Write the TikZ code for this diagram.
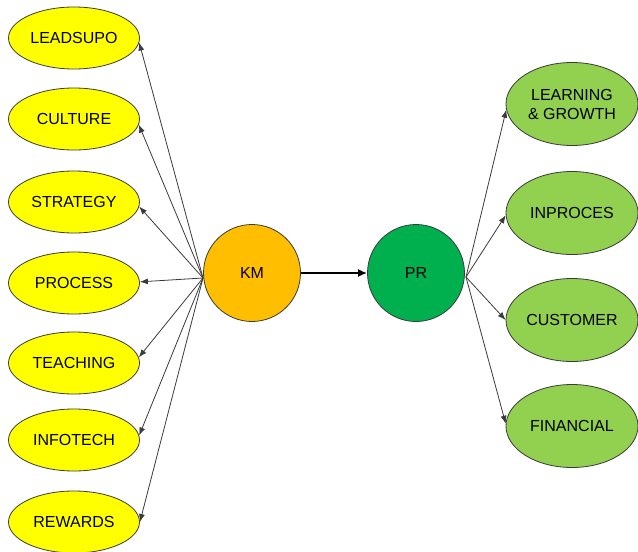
\documentclass[tikz,border=0pt]{standalone}
\usepackage{fontspec}
\setmainfont{Liberation Sans}
\usetikzlibrary{shapes.geometric,arrows.meta}
\definecolor{leftfill}{HTML}{FFFF00}
\definecolor{kmfill}{HTML}{FFBF00}
\definecolor{prfill}{HTML}{00B04F}
\definecolor{rightfill}{HTML}{92D050}
\definecolor{edgegray}{HTML}{3A3A3A}
\begin{document}
\begin{tikzpicture}[x=1pt,y=-1pt,
  every node/.style={font=\fontsize{16}{18}\selectfont, text=black},
  leftbox/.style={ellipse, draw=edgegray, line width=0.8pt, fill=leftfill,
    minimum width=131pt, minimum height=62pt, inner sep=0pt},
  rightbox/.style={ellipse, draw=edgegray, line width=0.8pt, fill=rightfill,
    minimum width=132pt, minimum height=83pt, inner sep=0pt, align=center},
  hub/.style={circle, draw=edgegray, line width=0.8pt, minimum size=97pt, inner sep=0pt},
  link/.style={draw=edgegray, line width=0.8pt, -{Latex[length=8pt,width=6pt]}},
  mainlink/.style={draw=black, line width=2.4pt, -{Latex[length=9pt,width=8pt]}}]
\useasboundingbox (0,0) rectangle (638,552);

% left-hand factors
\node[leftbox] (leadsupo) at (74,38)  {LEADSUPO};
\node[leftbox] (culture)  at (74,119) {CULTURE};
\node[leftbox] (strategy) at (74,202) {STRATEGY};
\node[leftbox] (process)  at (74,283) {PROCESS};
\node[leftbox] (teaching) at (74,363) {TEACHING};
\node[leftbox] (infotech) at (74,440) {INFOTECH};
\node[leftbox] (rewards)  at (74,522) {REWARDS};

% central hubs
\node[hub, fill=kmfill] (km) at (252,273) {KM};
\node[hub, fill=prfill] (pr) at (416,273) {PR};

% right-hand outcomes
\node[rightbox] (learning)  at (572,104) {LEARNING\\[1pt]\& GROWTH};
\node[rightbox] (inproces)  at (572,213) {INPROCES};
\node[rightbox] (customer)  at (572,320) {CUSTOMER};
\node[rightbox] (financial) at (572,426) {FINANCIAL};

% fan-out points
\coordinate (kmsrc) at (203,278);
\coordinate (prsrc) at (466,277);

% arrows from KM land just beside the east end of each ellipse
\foreach \t/\a in {leadsupo/-4,culture/-5,strategy/-4,process/1,teaching/5,infotech/4,rewards/0}
  \draw[link] (kmsrc) -- (\t.\a);
% arrows from PR land at the west end of each ellipse
\foreach \t/\a in {learning/185,inproces/182,customer/180,financial/178}
  \draw[link] (prsrc) -- (\t.\a);

\draw[mainlink] (km) -- (pr);
\end{tikzpicture}
\end{document}
